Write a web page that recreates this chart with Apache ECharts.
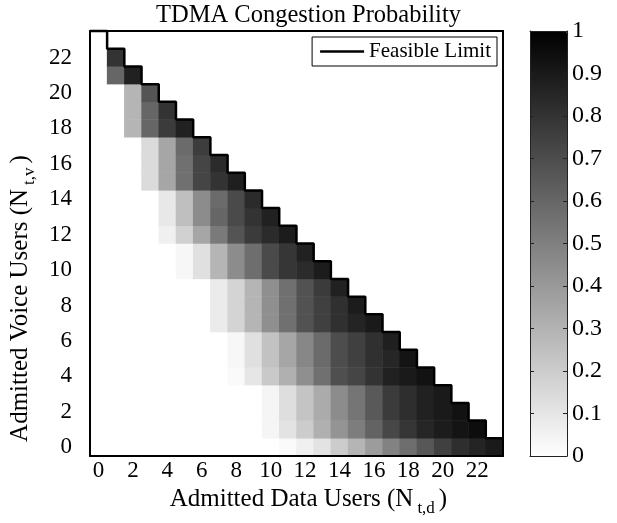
<!DOCTYPE html>
<html>
<head>
<meta charset="utf-8">
<script src="https://cdn.jsdelivr.net/npm/echarts@6/dist/echarts.min.js"></script>
<style>html,body{margin:0;padding:0;background:#fff}#chart{width:617px;height:523px}</style>
</head>
<body>
<div id="chart"></div>
<script>
// Categories
const dataUsers = ['0','1','2','3','4','5','6','7','8','9','10','11','12','13','14','15','16','17','18','19','20','21','22','23'];
const voiceUsers = ['0','1','2','3','4','5','6','7','8','9','10','11','12','13','14','15','16','17','18','19','20','21','22','23'];

// First admitted-data-users column that is drawn, per voice-user row (rows 0..22)
const firstDataCol = [11,10,10,10,8,8,8,7,7,7,5,5,4,4,4,3,3,3,2,2,2,1,1];

// Congestion probability per voice-user row, starting at firstDataCol
const congestion = [
  [0.02,0.06,0.11,0.20,0.29,0.39,0.49,0.57,0.66,0.75,0.82,0.86,0.90],            // v=0
  [0.04,0.11,0.20,0.31,0.42,0.51,0.61,0.72,0.79,0.85,0.89,0.92,0.95],            // v=1
  [0.04,0.13,0.23,0.33,0.45,0.54,0.65,0.77,0.82,0.87,0.90,0.93],                 // v=2
  [0.04,0.13,0.23,0.33,0.45,0.54,0.65,0.77,0.82,0.87,0.90],                      // v=3
  [0.02,0.10,0.21,0.31,0.44,0.56,0.69,0.73,0.80,0.87,0.90,0.93],                 // v=4
  [0.03,0.12,0.24,0.35,0.47,0.58,0.70,0.75,0.81,0.85,0.92],                      // v=5
  [0.03,0.12,0.24,0.35,0.47,0.58,0.70,0.75,0.81,0.88],                           // v=6
  [0.08,0.17,0.29,0.44,0.56,0.68,0.75,0.81,0.86,0.90],                           // v=7
  [0.08,0.17,0.29,0.44,0.56,0.68,0.75,0.81,0.89],                                // v=8
  [0.08,0.17,0.29,0.44,0.56,0.68,0.77,0.87],                                     // v=9
  [0.03,0.12,0.29,0.45,0.57,0.71,0.79,0.83,0.89],                                // v=10
  [0.03,0.12,0.29,0.45,0.57,0.71,0.79,0.87],                                     // v=11
  [0.06,0.18,0.35,0.52,0.67,0.77,0.83,0.89],                                     // v=12
  [0.09,0.25,0.45,0.60,0.71,0.80,0.87],                                          // v=13
  [0.09,0.25,0.45,0.58,0.71,0.83],                                               // v=14
  [0.14,0.35,0.56,0.73,0.80,0.88],                                               // v=15
  [0.14,0.35,0.56,0.73,0.83],                                                    // v=16
  [0.14,0.35,0.58,0.76],                                                         // v=17
  [0.29,0.60,0.77,0.87],                                                         // v=18
  [0.29,0.60,0.80],                                                              // v=19
  [0.29,0.67],                                                                   // v=20
  [0.60,0.87],                                                                   // v=21
  [0.80]                                                                         // v=22
];

// Feasible limit: maximum admitted voice users for each number of data users (0..23)
const feasibleLimit = [23,22,21,20,19,18,17,16,15,14,13,12,11,10,9,8,7,6,5,4,3,2,1,0];

const FONT = 'Liberation Serif';

const cells = [];
congestion.forEach(function (row, v) {
  row.forEach(function (p, i) { cells.push([firstDataCol[v] + i, v, p]); });
});

// staircase along cell edges
const limitLine = feasibleLimit.map(function (m, n) { return [n - 0.5, m + 0.5]; });
limitLine.push([feasibleLimit.length - 0.5, feasibleLimit[feasibleLimit.length - 1] + 0.5]);

const chart = echarts.init(document.getElementById('chart'), null, {renderer: 'canvas'});

const baseText = {fontFamily: FONT, color: '#000'};

const option = {
  backgroundColor: '#fff',
  animation: false,
  title: {
    text: 'TDMA Congestion Probability',
    left: 'center', top: -2,
    textStyle: {fontFamily: FONT, fontSize: 24.5, fontWeight: 'normal', color: '#000'}
  },
  legend: {
    data: [{name: 'Feasible Limit', icon: 'rect'}],
    right: 120, top: 37,
    backgroundColor: '#fff', borderColor: '#000', borderWidth: 1,
    borderRadius: 0,
    padding: [4, 6, 4, 8],
    itemWidth: 44, itemHeight: 2.5, itemGap: 6,
    textStyle: {fontFamily: FONT, fontSize: 21, color: '#000'}
  },
  grid: [
    {left: 84, top: 31, width: 419, height: 425},
    {left: 530, top: 31, width: 37, height: 425}
  ],
  visualMap: {
    type: 'continuous', min: 0, max: 1, dimension: 2, seriesIndex: 0,
    inRange: {color: ['#ffffff', '#000000']},
    left: 530, top: 31, itemWidth: 37, itemHeight: 425, padding: 0,
    calculable: false, hoverLink: false, realtime: false, text: null,
    textStyle: {color: 'transparent'}
  },
  xAxis: [
    {
      gridIndex: 0, type: 'category', data: dataUsers, position: 'bottom', z: 10,
      axisLine: {show: true, onZero: false, lineStyle: {color: '#000', width: 2}},
      axisTick: {show: false},
      axisLabel: Object.assign({interval: 1, margin: 3, fontSize: 23}, baseText),
      splitLine: {show: false},
      name: '{a|Admitted Data Users (N}{s|t,d}{a|)}',
      nameLocation: 'middle', nameGap: 29,
      nameTextStyle: {
        fontFamily: FONT, fontSize: 25, color: '#000', padding: [0, 0, 0, 24],
        rich: {
          a: {fontFamily: FONT, fontSize: 25, color: '#000', verticalAlign: 'top', lineHeight: 26},
          s: {fontFamily: FONT, fontSize: 17, color: '#000', verticalAlign: 'top', lineHeight: 17, padding: [13, 4, 0, 4]}
        }
      }
    },
    {
      gridIndex: 0, type: 'value', min: -0.5, max: 23.5, position: 'top', z: 10,
      axisLine: {show: true, onZero: false, lineStyle: {color: '#000', width: 2}},
      axisTick: {show: false}, axisLabel: {show: false}, splitLine: {show: false}
    },
    {
      gridIndex: 1, type: 'value', min: 0, max: 1, position: 'bottom', z: 10,
      axisLine: {show: true, onZero: false, lineStyle: {color: '#222', width: 1}},
      axisTick: {show: false}, axisLabel: {show: false}, splitLine: {show: false}
    },
    {
      gridIndex: 1, type: 'value', min: 0, max: 1, position: 'top', z: 10,
      axisLine: {show: true, onZero: false, lineStyle: {color: '#222', width: 1}},
      axisTick: {show: false}, axisLabel: {show: false}, splitLine: {show: false}
    }
  ],
  yAxis: [
    {
      gridIndex: 0, type: 'category', data: voiceUsers, position: 'left', z: 10,
      axisLine: {show: true, onZero: false, lineStyle: {color: '#000', width: 2}},
      axisTick: {show: false},
      axisLabel: Object.assign({interval: 1, margin: 18, fontSize: 23}, baseText),
      splitLine: {show: false},
      name: '{a|Admitted Voice Users (N}{s|t,v}{a|)}',
      nameLocation: 'middle', nameGap: 39, nameRotate: 90,
      nameTextStyle: {
        fontFamily: FONT, fontSize: 25, color: '#000', padding: [0, 110, 0, 0],
        rich: {
          a: {fontFamily: FONT, fontSize: 25, color: '#000', verticalAlign: 'top', lineHeight: 26},
          s: {fontFamily: FONT, fontSize: 17, color: '#000', verticalAlign: 'top', lineHeight: 17, padding: [13, 4, 0, 4]}
        }
      }
    },
    {
      gridIndex: 0, type: 'value', min: -0.5, max: 23.5, position: 'right', z: 10,
      axisLine: {show: true, onZero: false, lineStyle: {color: '#000', width: 2}},
      axisTick: {show: false}, axisLabel: {show: false}, splitLine: {show: false}
    },
    {
      gridIndex: 1, type: 'value', min: 0, max: 1, interval: 0.1, position: 'right', z: 10,
      axisLine: {show: true, onZero: false, lineStyle: {color: '#222', width: 1}},
      axisTick: {show: true, inside: true, length: 4, lineStyle: {color: '#222', width: 1}},
      axisLabel: Object.assign({margin: 5, fontSize: 24}, baseText),
      splitLine: {show: false}
    },
    {
      gridIndex: 1, type: 'value', min: 0, max: 1, interval: 0.1, position: 'left', z: 10,
      axisLine: {show: true, onZero: false, lineStyle: {color: '#222', width: 1}},
      axisTick: {show: true, inside: true, length: 4, lineStyle: {color: '#222', width: 1}},
      axisLabel: {show: false}, splitLine: {show: false}
    }
  ],
  series: [
    {
      type: 'heatmap', xAxisIndex: 0, yAxisIndex: 0, data: cells,
      itemStyle: {borderWidth: 0},
      emphasis: {disabled: true}, progressive: 0
    },
    {
      type: 'line', name: 'Feasible Limit', xAxisIndex: 1, yAxisIndex: 1,
      data: limitLine, step: 'end', symbol: 'none', clip: false, z: 5,
      lineStyle: {color: '#000', width: 2.5}, itemStyle: {color: '#000'}
    }
  ]
};

chart.setOption(option);
</script>
</body>
</html>
